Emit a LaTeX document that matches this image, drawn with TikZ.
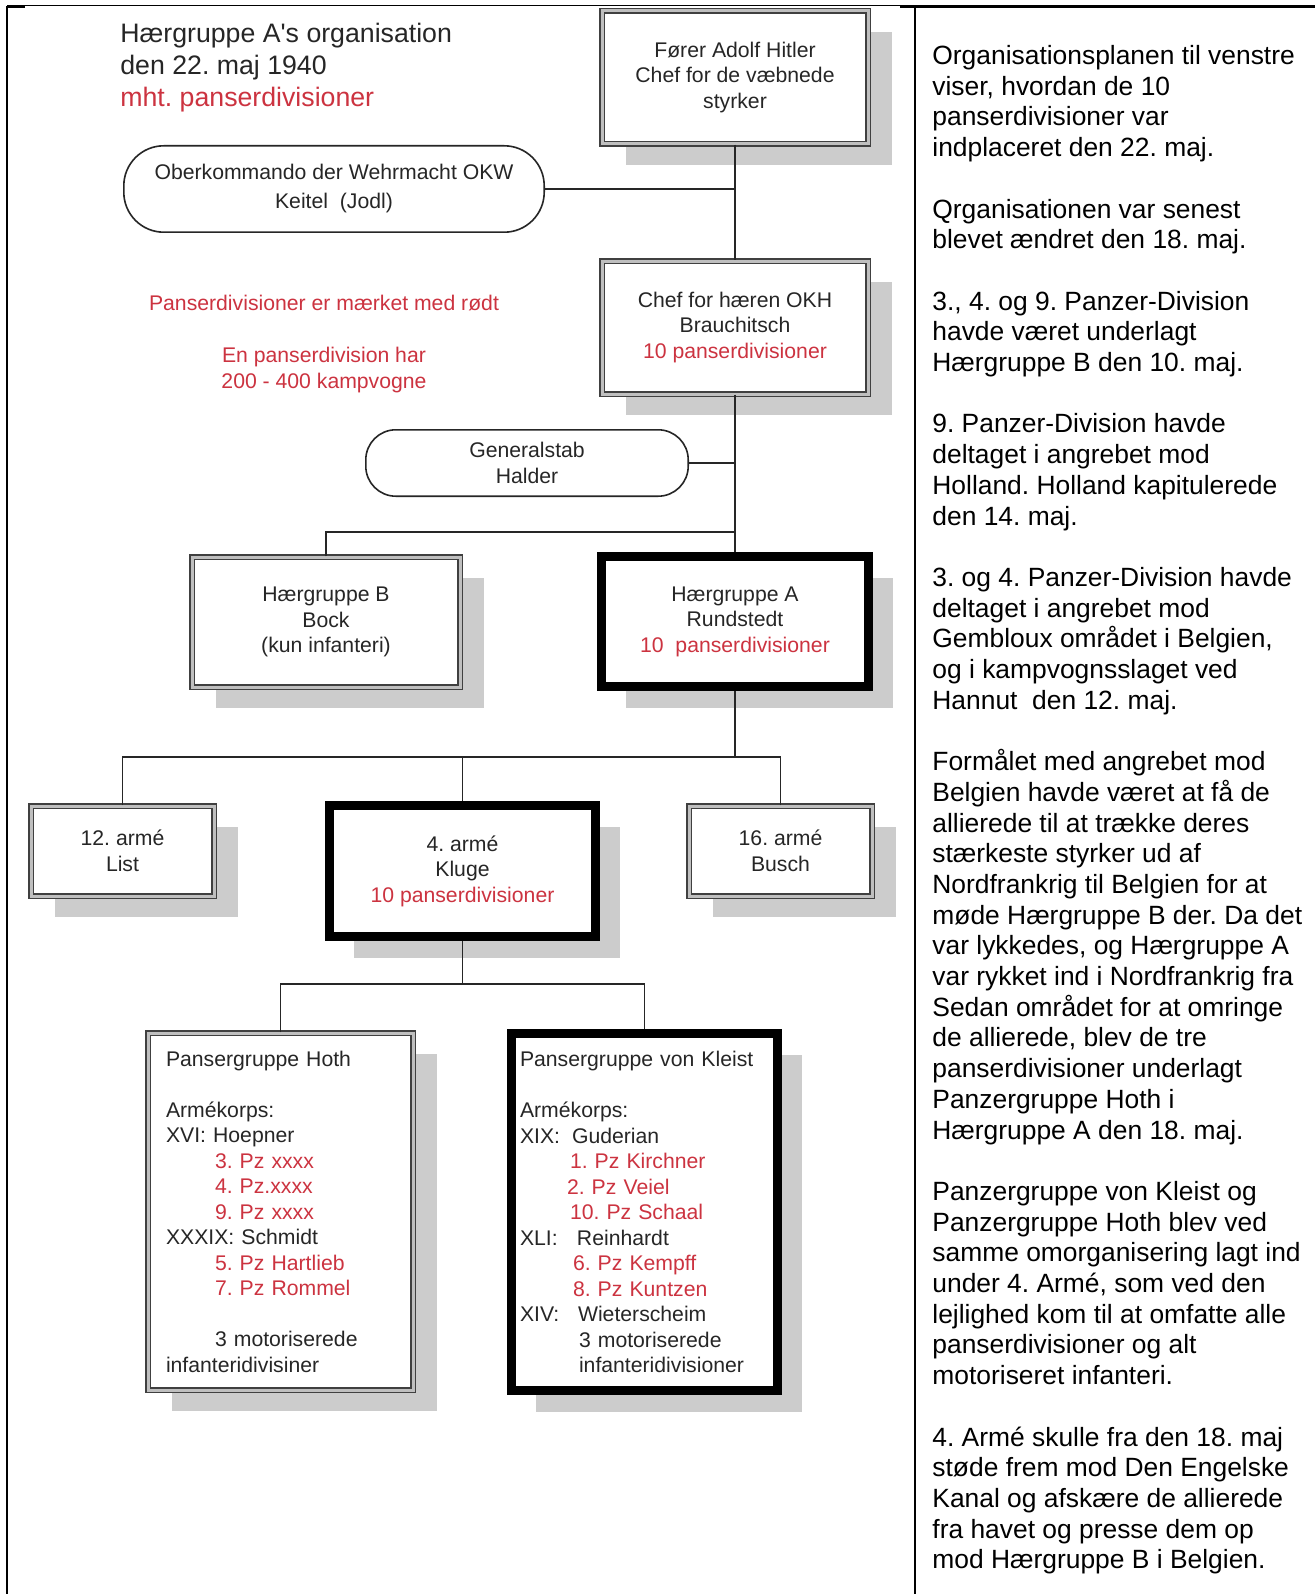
\documentclass[tikz,border=0pt]{standalone}
\usepackage{fontspec}
\setmainfont{Liberation Sans}
\usetikzlibrary{shadows}
\definecolor{pzred}{HTML}{CC3340}
\definecolor{shadowgrey}{HTML}{CCCCCC}
\newcommand{\pz}[1]{\textcolor{pzred}{#1}}
\newcommand{\boxfont}{\fontsize{10.6pt}{12.75pt}\selectfont}
\newcommand{\titlefont}{\fontsize{13.35pt}{16pt}\selectfont}
\newcommand{\notefont}{\fontsize{13.2pt}{15.35pt}\selectfont}
\frenchspacing

\begin{document}
\begin{tikzpicture}[
  x=0.5pt, y=-0.5pt,
  every node/.style={font=\boxfont, text=black!85, inner sep=0pt},
  boxshadow/.style={drop shadow={shadow xshift=12pt, shadow yshift=-10.5pt, fill=shadowgrey, opacity=1}},
  unit/.style={boxshadow, draw=black!75, double=black!25, double distance=1.5pt, line width=0.7pt, fill=white, align=center},
  keyunit/.style={boxshadow, draw=black, line width=4.5pt, fill=white, align=center},
  staff/.style={draw=black!85, line width=0.8pt, fill=white, rounded corners=20pt, align=center},
  link/.style={draw=black!85, line width=0.8pt},
]
  \useasboundingbox[fill=white] (0,0) rectangle (1315,1594);
  \draw[line width=0.5pt] (7,6) -- (1315,6);
  \draw[line width=1.25pt] (7,7) -- (25,7) (900,7) -- (1315,7);
  \draw[line width=1.25pt] (7,6) -- (7,1594);
  \draw[line width=1.25pt] (915,7) -- (915,1594);

  \node[font=\titlefont, align=left, anchor=north west] (title) at (120,23)
    {Hærgruppe A\textquotesingle s organisation\\den 22. maj 1940\\\pz{mht. panserdivisioner}};
  \node[text=pzred] (legend) at (324,303) {Panserdivisioner er mærket med rødt};
  \node[text=pzred, align=center] (tanks) at (324,370) {En panserdivision har\\200 - 400 kampvogne};

  \node[unit, minimum width=133pt, minimum height=66.5pt] (hitler) at (735,77.5)
    {Fører Adolf Hitler\\Chef for de væbnede\\styrker};
  \node[staff, minimum width=210.2pt, minimum height=43.2pt] (okw) at (334,189)
    {Oberkommando der Wehrmacht OKW\\[1.75pt]Keitel~~(Jodl)};
  \node[unit, minimum width=133pt, minimum height=66.5pt] (chef) at (735,327.5)
    {Chef for hæren OKH\\Brauchitsch\\\pz{10 panserdivisioner}};
  \node[staff, rounded corners=15pt, minimum width=161.2pt, minimum height=33.2pt] (genstab) at (527,463)
    {Generalstab\\Halder};
  \node[unit, minimum width=134pt, minimum height=65pt] (hgB) at (326,622)
    {Hærgruppe B\\Bock\\(kun infanteri)};
  \node[keyunit, minimum width=133.5pt, minimum height=65pt] (hgA) at (735,621.5)
    {Hærgruppe A\\Rundstedt\\\pz{10~~panserdivisioner}};
  \node[unit, minimum width=91.5pt, minimum height=45pt] (arm12) at (122.5,851)
    {12. armé\\List};
  \node[keyunit, minimum width=133pt, minimum height=65.5pt] (arm4) at (462.5,871)
    {4. armé\\Kluge\\\pz{10 panserdivisioner}};
  \node[unit, minimum width=91.5pt, minimum height=45pt] (arm16) at (780.5,851)
    {16. armé\\Busch};

  \node[unit, align=left, text width=114.5pt, inner xsep=9pt, minimum height=178.5pt] (hoth) at (280.5,1211.5)
    {Pansergruppe Hoth\\[12.75pt]
     Armékorps:\\
     XVI: Hoepner\\
     \hspace*{24.5pt}\pz{3. Pz xxxx}\\
     \hspace*{24.5pt}\pz{4. Pz.xxxx}\\
     \hspace*{24.5pt}\pz{9. Pz xxxx}\\
     XXXIX: Schmidt\\
     \hspace*{24.5pt}\pz{5. Pz Hartlieb}\\
     \hspace*{24.5pt}\pz{7. Pz Rommel}\\[12.75pt]
     \hspace*{24.5pt}3 motoriserede\\
     infanteridivisiner};
  \node[keyunit, align=left, text width=124.5pt, inner xsep=4.25pt, minimum height=178.5pt] (kleist) at (644.5,1212)
    {Pansergruppe von Kleist\\[12.75pt]
     Armékorps:\\
     \makebox[26pt][l]{XIX:}Guderian\\
     \hspace*{25pt}\pz{1. Pz Kirchner}\\
     \hspace*{23.5pt}\pz{2. Pz Veiel}\\
     \hspace*{25pt}\pz{10. Pz Schaal}\\
     \makebox[28.5pt][l]{XLI:}Reinhardt\\
     \hspace*{26.5pt}\pz{6. Pz Kempff}\\
     \hspace*{26.5pt}\pz{8. Pz Kuntzen}\\
     \makebox[29pt][l]{XIV:}Wieterscheim\\
     \hspace*{29.5pt}3 motoriserede\\
     \hspace*{29.5pt}infanteridivisioner};

  \coordinate (jB) at (735,532);
  \coordinate (busA) at (735,757);
  \coordinate (bus4) at (462.5,984);

  \draw[link] (hitler) -- (chef);
  \draw[link] (okw.east) -- (okw.east -| hitler.south);
  \draw[link] (chef) -- (hgA);
  \draw[link] (genstab.east) -- (genstab.east -| chef.south);
  \draw[link] (hgB.north) |- (jB);
  \draw[link] (hgA.south) -- (busA);
  \foreach \n in {arm12, arm4, arm16}
    \draw[link] (\n.north) |- (busA);
  \draw[link] (arm4.south) -- (bus4);
  \foreach \n in {hoth, kleist}
    \draw[link] (\n.north) |- (bus4);

  \node[font=\notefont, text=black, align=left, anchor=north west] (notes) at (932,45)
    {Organisationsplanen til venstre\\
     viser, hvordan de 10\\
     panserdivisioner var\\
     indplaceret den 22. maj.\\[15.35pt]
     Qrganisationen var senest\\
     blevet ændret den 18. maj.\\[15.35pt]
     3., 4. og 9. Panzer-Division\\
     havde været underlagt\\
     Hærgruppe B den 10. maj.\\[15.35pt]
     9. Panzer-Division havde\\
     deltaget i angrebet mod\\
     Holland. Holland kapitulerede\\
     den 14. maj.\\[15.35pt]
     3. og 4. Panzer-Division havde\\
     deltaget i angrebet mod\\
     Gembloux området i Belgien,\\
     og i kampvognsslaget ved\\
     Hannut~~den 12. maj.\\[15.35pt]
     Formålet med angrebet mod\\
     Belgien havde været at få de\\
     allierede til at trække deres\\
     stærkeste styrker ud af\\
     Nordfrankrig til Belgien for at\\
     møde Hærgruppe B der. Da det\\
     var lykkedes, og Hærgruppe A\\
     var rykket ind i Nordfrankrig fra\\
     Sedan området for at omringe\\
     de allierede, blev de tre\\
     panserdivisioner underlagt\\
     Panzergruppe Hoth i\\
     Hærgruppe A den 18. maj.\\[15.35pt]
     Panzergruppe von Kleist og\\
     Panzergruppe Hoth blev ved\\
     samme omorganisering lagt ind\\
     under 4. Armé, som ved den\\
     lejlighed kom til at omfatte alle\\
     panserdivisioner og alt\\
     motoriseret infanteri.\\[15.35pt]
     4. Armé skulle fra den 18. maj\\
     støde frem mod Den Engelske\\
     Kanal og afskære de allierede\\
     fra havet og presse dem op\\
     mod Hærgruppe B i Belgien.};
\end{tikzpicture}
\end{document}
